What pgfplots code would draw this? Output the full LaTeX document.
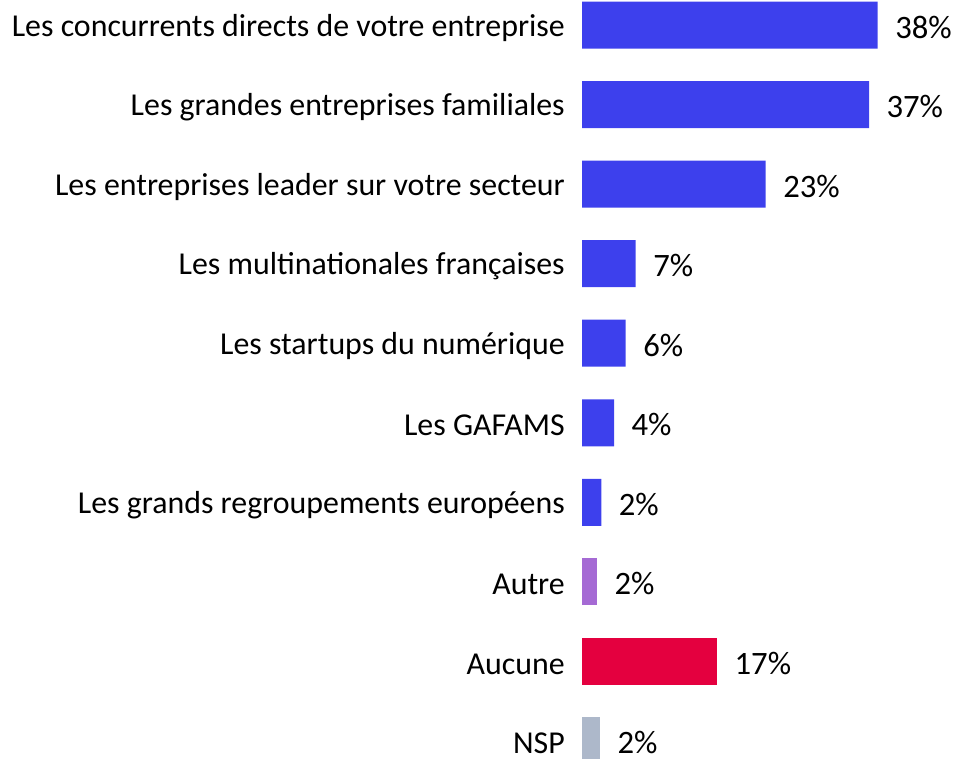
\documentclass[border=0pt]{standalone}
\usepackage{pgfplots}
\pgfplotsset{compat=1.18}
\usepackage{fontspec}
\setmainfont{Carlito}
\definecolor{cblue}{RGB}{61,64,237}
\definecolor{cpurple}{RGB}{165,106,212}
\definecolor{cred}{RGB}{228,0,63}
\definecolor{cgray}{RGB}{173,184,202}
\begin{document}
\begin{tikzpicture}
\begin{axis}[
  at={(436.5pt,-16.3125pt)}, anchor=south west,
  scale only axis, width=279.375pt, height=596.625pt,
  xmin=0, xmax=47.45, ymin=-0.5, ymax=9.5, y dir=reverse,
  xbar, bar width=35.25pt, bar shift=0pt,
  axis line style={draw=none}, tick style={draw=none}, major tick length=0pt,
  xtick=\empty,
  ytick={0,...,9},
  yticklabels={Les concurrents directs de votre entreprise,
    Les grandes entreprises familiales,
    Les entreprises leader sur votre secteur,
    Les multinationales françaises,
    Les startups du numérique,
    Les GAFAMS,
    Les grands regroupements européens,
    Autre, Aucune, NSP},
  yticklabel style={inner sep=0pt, xshift=-12.75pt, yshift=-2pt, font=\fontsize{23.9pt}{27pt}\selectfont},
  /pgf/number format/assume math mode=true,
  nodes near coords={\pgfmathprintnumber[fixed,precision=0]{\pgfplotspointmeta}\%},
  every node near coord/.append style={anchor=west, inner sep=0pt, xshift=13pt, yshift=-1.5pt, font=\fontsize{24.5pt}{27pt}\selectfont, text=black},
  clip=false,
]
\addplot[fill=cblue, draw=none] coordinates {(37.67,0) (36.56,1) (23.40,2) (6.84,3) (5.57,4) (4.08,5) (2.46,6)};
\addplot[fill=cpurple, draw=none] coordinates {(1.91,7)};
\addplot[fill=cred, draw=none] coordinates {(17.2,8)};
\addplot[fill=cgray, draw=none] coordinates {(2.29,9)};
\end{axis}
\pgfresetboundingbox
\path[use as bounding box] (0,0) rectangle (719.25pt,569.25pt);
\end{tikzpicture}
\end{document}
